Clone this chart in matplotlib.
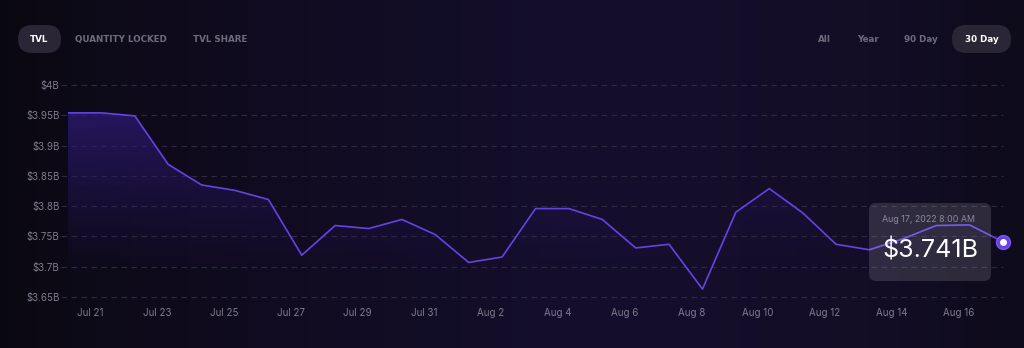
import numpy as np
import pandas as pd
import matplotlib
matplotlib.use('Agg')
import matplotlib.pyplot as plt
import matplotlib.dates as mdates
from matplotlib.patches import FancyBboxPatch

# TVL per day (billions USD), daily at 8:00 AM
dates = pd.date_range('2022-07-20 08:00', '2022-08-17 08:00', freq='D')
tvl = [3.954, 3.954, 3.949, 3.869, 3.835, 3.826, 3.811, 3.719, 3.768, 3.763,
       3.778, 3.753, 3.707, 3.716, 3.796, 3.796, 3.778, 3.731, 3.737, 3.663,
       3.790, 3.829, 3.789, 3.737, 3.728, 3.746, 3.768, 3.769, 3.741]

y_ticks = [3.65, 3.7, 3.75, 3.8, 3.85, 3.9, 3.95, 4.0]
x_ticks = pd.date_range('2022-07-21', '2022-08-16', freq='2D')
left_tabs = ['TVL', 'QUANTITY LOCKED', 'TVL SHARE']
right_tabs = ['All', 'Year', '90 Day', '30 Day']

W, H = 1024, 348
line_color = '#6443e4'
grid_color = '#2f2a3f'
label_color = '#7f7a8c'

fig = plt.figure(figsize=(W / 100, H / 100), dpi=100)

# background gradient (dark left, purple middle)
bg = fig.add_axes([0, 0, 1, 1], zorder=-5)
bg.axis('off')
xs = np.linspace(0, 1, 400)
stops_x = [0.0, 0.07, 0.3, 0.6, 0.85, 1.0]
stops_c = np.array([[10, 8, 15], [13, 10, 24], [17, 12, 34], [21, 15, 45],
                    [19, 13, 38], [14, 11, 27]]) / 255
row = np.stack([np.interp(xs, stops_x, stops_c[:, k]) for k in range(3)], axis=-1)
bg.imshow(row[None, :, :], aspect='auto', extent=[0, 1, 0, 1])

# main chart
ax = fig.add_axes([68 / W, (H - 297) / H, 935 / W, 212 / H], zorder=1)
ax.patch.set_alpha(0)
xn = mdates.date2num(dates)
ax.set_xlim(xn[0], xn[-1])
ax.set_ylim(3.65, 4.0)

# gradient fill under the line
poly = ax.fill_between(xn, tvl, 3.65, facecolor='none', edgecolor='none')
gy = np.linspace(3.65, 4.0, 200)[:, None]
gx = np.linspace(0, 1, 300)[None, :]
alpha = np.clip((gy - 3.68) / (3.96 - 3.68), 0, 1) ** 1.2 * 0.85 * (1 - 0.55 * gx)
grad = np.zeros((200, 300, 4))
grad[..., 0] = 0.17
grad[..., 1] = 0.10
grad[..., 2] = 0.43
grad[..., 3] = alpha
im = ax.imshow(grad, extent=[xn[0], xn[-1], 3.65, 4.0], aspect='auto',
               origin='lower', zorder=1)
im.set_clip_path(poly.get_paths()[0], transform=ax.transData)

ax.plot(xn, tvl, color=line_color, lw=1.2, zorder=3, solid_joinstyle='round')

# dashed grid, slightly extended to the left of the plot
for v in y_ticks:
    ax.plot([-0.007, 1], [v, v], transform=ax.get_yaxis_transform(),
            color=grid_color, lw=0.8, ls=(0, (5, 4)), clip_on=False, zorder=0)
ax.axvline(xn[-1], color=grid_color, lw=0.8, ls=(0, (5, 4)), zorder=0)

for s in ax.spines.values():
    s.set_visible(False)
ax.set_yticks(y_ticks)
ax.set_yticklabels([f'${v:g}B' for v in y_ticks])
ax.set_xticks(mdates.date2num(x_ticks))
ax.set_xticklabels([f'{d:%b} {d.day}' for d in x_ticks])
ax.tick_params(length=0, colors=label_color, labelsize=7)
ax.tick_params(axis='y', pad=6)
ax.tick_params(axis='x', pad=8)
for t in ax.get_xticklabels() + ax.get_yticklabels():
    t.set_fontfamily('Inter')

# last point marker
ax.plot(xn[-1], tvl[-1], 'o', ms=10, color=line_color, mec='#7a55f5', mew=1,
        zorder=5, clip_on=False)
ax.plot(xn[-1], tvl[-1], 'o', ms=4, color='white', zorder=6, clip_on=False)

# overlay in pixel coordinates for tabs and tooltip
ov = fig.add_axes([0, 0, 1, 1], zorder=2)
ov.set_xlim(0, W)
ov.set_ylim(H, 0)
ov.axis('off')

pill = '#2a2636'
ov.add_patch(FancyBboxPatch((18, 25), 43, 28, boxstyle='round,pad=0,rounding_size=14',
                            fc=pill, ec='none'))
ov.add_patch(FancyBboxPatch((952, 25), 59, 28, boxstyle='round,pad=0,rounding_size=14',
                            fc=pill, ec='none'))
tab_font = dict(family='DejaVu Sans', weight='bold', fontsize=6.3, va='center')
for label, xc in zip(left_tabs, [39.5, 120.5, 220]):
    ov.text(xc, 39.5, label, ha='center',
            color='white' if label == 'TVL' else '#6f6a7c', **tab_font)
for label, xc in zip(right_tabs, [824.5, 867.5, 921, 981.5]):
    ov.text(xc, 39.5, label, ha='center',
            color='white' if label == '30 Day' else '#6f6a7c', **tab_font)

# tooltip
ov.add_patch(FancyBboxPatch((869, 203), 122, 78, boxstyle='round,pad=0,rounding_size=7',
                            fc=(1, 1, 1, 0.13), ec='none'))
last = dates[-1]
ov.text(929, 220, f'{last:%b} {last.day}, {last:%Y} {last.hour}:{last:%M %p}',
        ha='center', va='center', color='#8e899a', fontsize=6.4, family='Inter')
ov.text(882, 250, f'${tvl[-1]:.3f}B', ha='left', va='center', color='white',
        fontsize=18, family='Inter')

fig.savefig('out.png', dpi=100)
